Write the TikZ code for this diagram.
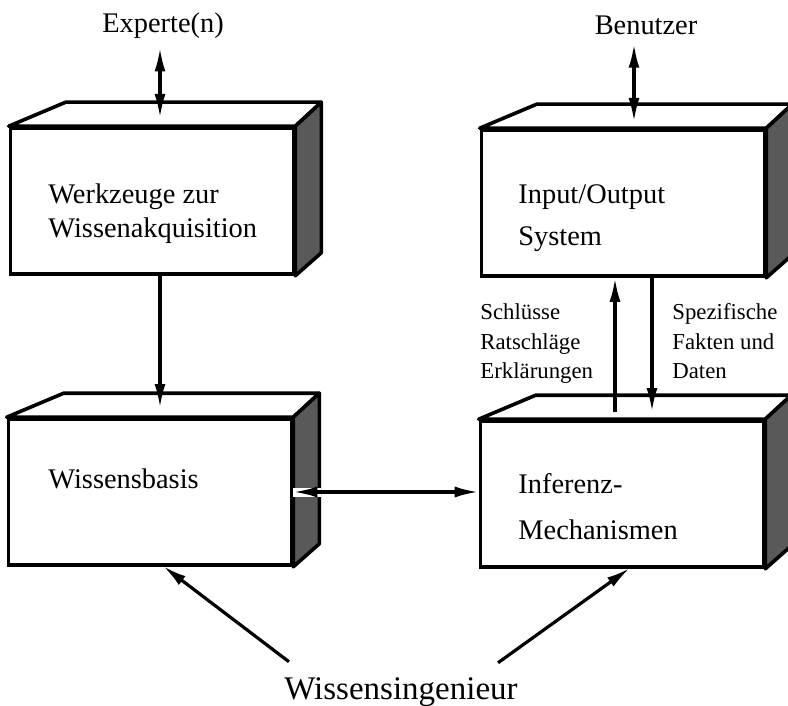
\documentclass[tikz,border=0pt]{standalone}
\usepackage{fontspec}
\setmainfont{Liberation Serif}
\usetikzlibrary{arrows.meta, calc}

\begin{document}
\begin{tikzpicture}[x=0.5pt, y=-0.5pt,
  block/.style={rectangle, draw, line width=1.8pt, fill=white,
                minimum width=141.5pt, minimum height=73pt, inner sep=0pt},
  txt/.style={anchor=base west, align=left, inner sep=0pt,
              font=\fontsize{14.2}{17}\selectfont},
  tag/.style={anchor=base west, align=left, inner sep=0pt,
              font=\fontsize{11.4}{14.5}\selectfont},
  face/.style={draw, line width=1.8pt, line join=round, fill=white},
  side/.style={draw, line width=1.8pt, line join=round, fill=black!65},
  arr/.style={-{Latex[length=12pt,width=5.5pt]}, line width=1.6pt},
  dbl/.style={{Latex[length=12pt,width=5.5pt]}-{Latex[length=12pt,width=5.5pt]},
              line width=1.6pt},
]
  \useasboundingbox (0,0) rectangle (788,706);
  \clip (0,0) rectangle (788,706);

  % the four blocks (front faces)
  \node[block] (wz)  at (152,201) {};
  \node[block] (io)  at (623,203) {};
  \node[block] (wb)  at (150,492) {};
  \node[block] (inf) at (622,494) {};

  % top and shaded side of each block
  \foreach \b in {wz,io,wb,inf}{
    \draw[face] (\b.north west) -- ++(57,-24) -- ($(\b.north east)+(26,-24)$)
                -- (\b.north east) -- cycle;
    \draw[side] (\b.north east) -- ++(26,-24) -- ($(\b.south east)+(26,-23)$)
                -- (\b.south east) -- cycle;
  }

  % base = last line
  \node[txt] (wzt) at (48,237) {Werkzeuge zur\\Wissenakquisition};
  \node[txt, font=\fontsize{14.2}{21}\selectfont] (iot) at (518,246) {Input/Output\\System};
  \node[txt] (wbt) at (48,488) {Wissensbasis};
  \node[txt, font=\fontsize{14.2}{23}\selectfont] (inft) at (518,539) {Inferenz-\\Mechanismen};

  \node[txt, anchor=base, inner sep=4pt] (exp) at (163,33) {Experte(n)};
  \node[txt, anchor=base, inner sep=4pt] (ben) at (646,35) {Benutzer};

  \node[tag] (res) at (480,378) {Schlüsse\\Ratschläge\\Erklärungen};
  \node[tag] (dat) at (672,378) {Spezifische\\Fakten und\\Daten};

  \node[anchor=base, inner sep=0pt, font=\fontsize{16.5}{20}\selectfont] (wi)
       at (401,699) {Wissensingenieur};

  % free ends of the connectors
  \coordinate (wzin)  at (160,118);
  \coordinate (ioin)  at (634,122);
  \coordinate (wbin)  at (160,408);
  \coordinate (infup) at (615,412);
  \coordinate (infdn) at (652,412);
  \coordinate (wbbot) at (163,566);
  \coordinate (infbot) at (630,568);

  \draw[dbl] (exp.south -| wzin) -- (wzin);
  \draw[dbl] (ben.south -| ioin) -- (ioin);
  \draw[arr] (wz.south -| wbin) -- (wbin);
  \draw[arr] (infup) -- (io.south -| infup);
  \draw[arr] (io.south -| infdn) -- (infdn);

  \draw[white, line width=4.5pt] (wb.east) -- ++(28,0);
  \draw[dbl] (wb.east) -- (wb.east -| inf.west);

  \draw[arr] ([xshift=2.5pt, yshift=7.5pt]wi.north west) -- (wbbot);
  \draw[arr] ([xshift=-10pt, yshift=7pt]wi.north east) -- (infbot);
\end{tikzpicture}
\end{document}
